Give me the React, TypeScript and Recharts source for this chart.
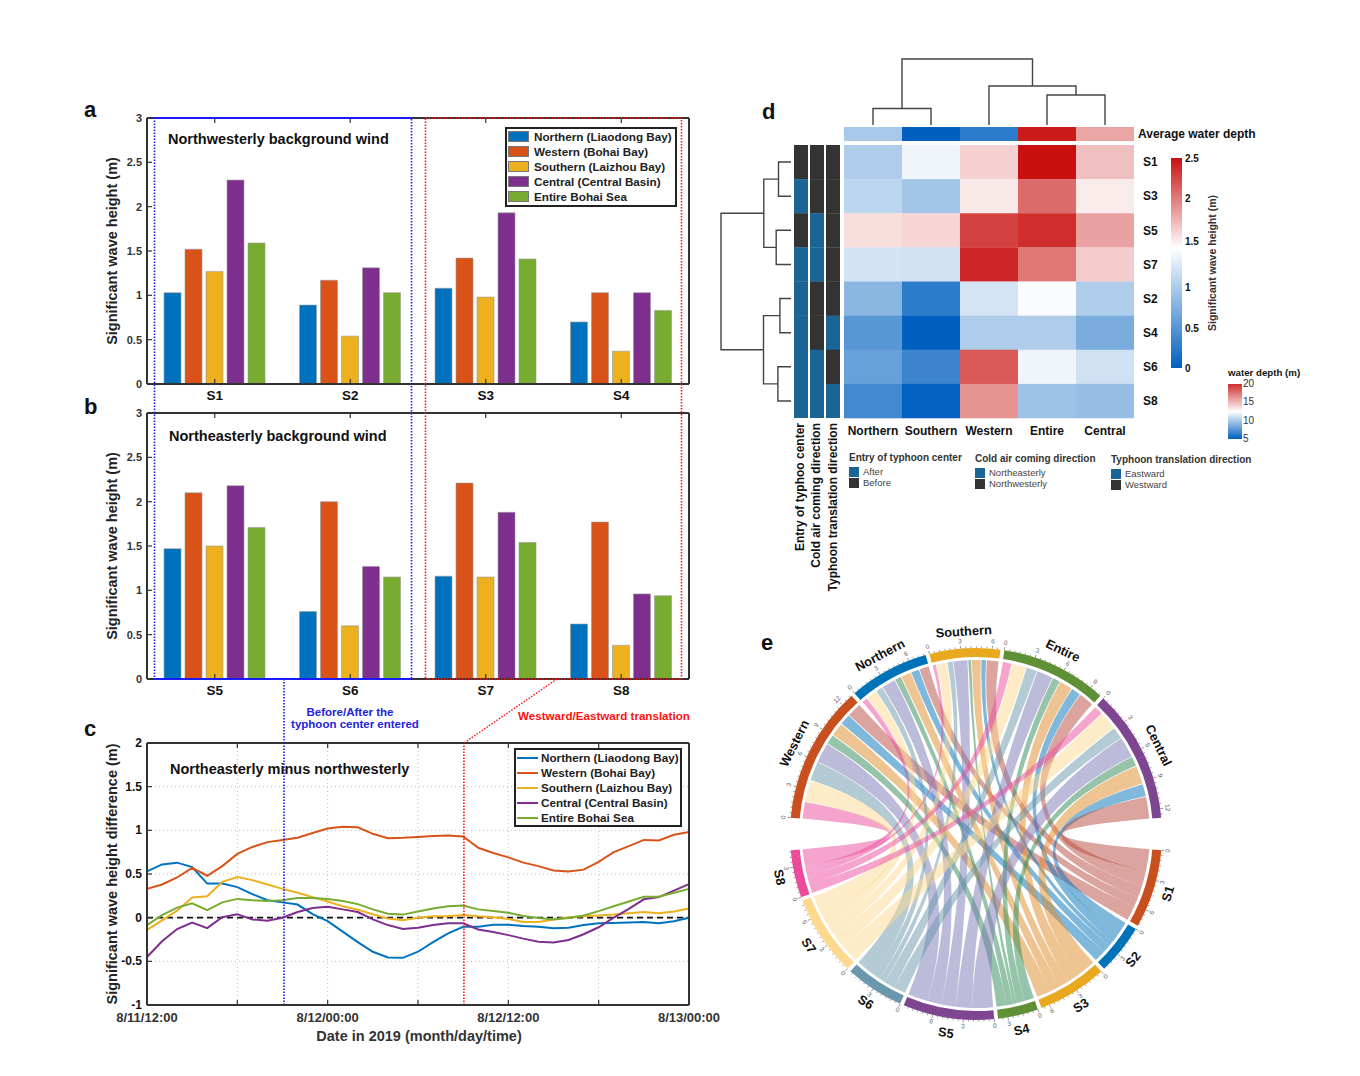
import React from 'react';
import {
  BarChart, Bar, LineChart, Line, ScatterChart, Scatter, PieChart, Pie, Cell,
  XAxis, YAxis, CartesianGrid, Legend, ReferenceLine, Customized,
} from 'recharts';

const FONT = '"Liberation Sans", Arial, sans-serif';
const FRAME = '#333333';

// panels a and b, one value per scenario
const scenariosA = ['S1', 'S2', 'S3', 'S4'];
const northernA = [1.03, 0.89, 1.08, 0.7];
const westernA = [1.52, 1.17, 1.42, 1.03];
const southernA = [1.27, 0.54, 0.98, 0.37];
const centralA = [2.3, 1.31, 1.93, 1.03];
const entireA = [1.59, 1.03, 1.41, 0.83];

const scenariosB = ['S5', 'S6', 'S7', 'S8'];
const northernB = [1.47, 0.76, 1.16, 0.62];
const westernB = [2.1, 2.0, 2.21, 1.77];
const southernB = [1.5, 0.6, 1.15, 0.38];
const centralB = [2.18, 1.27, 1.88, 0.96];
const entireB = [1.71, 1.15, 1.54, 0.94];

const seriesKeys = ['northern', 'western', 'southern', 'central', 'entire'];
const seriesNames = ['Northern (Liaodong Bay)', 'Western (Bohai Bay)', 'Southern (Laizhou Bay)', 'Central (Central Basin)', 'Entire Bohai Sea'];
const seriesColors = ['#0072bd', '#d95319', '#edb120', '#7e2f8e', '#77ac30'];

const waveTicks = [0, 0.5, 1, 1.5, 2, 2.5, 3];

// panel c, hourly from 8/11 12:00
const hours = [0, 1, 2, 3, 4, 5, 6, 7, 8, 9, 10, 11, 12, 13, 14, 15, 16, 17, 18, 19, 20, 21, 22, 23, 24, 25, 26, 27, 28, 29, 30, 31, 32, 33, 34, 35, 36];
const northernDiff = [0.53, 0.61, 0.63, 0.58, 0.39, 0.39, 0.35, 0.27, 0.2, 0.175, 0.15, 0.04, -0.04, -0.16, -0.28, -0.39, -0.455, -0.46, -0.39, -0.28, -0.18, -0.105, -0.105, -0.08, -0.08, -0.095, -0.105, -0.12, -0.115, -0.085, -0.065, -0.06, -0.055, -0.05, -0.065, -0.04, 0];
const westernDiff = [0.33, 0.38, 0.46, 0.57, 0.48, 0.59, 0.73, 0.81, 0.865, 0.89, 0.915, 0.97, 1.02, 1.04, 1.035, 0.96, 0.91, 0.915, 0.925, 0.935, 0.94, 0.93, 0.8, 0.74, 0.69, 0.63, 0.59, 0.54, 0.53, 0.55, 0.64, 0.75, 0.82, 0.89, 0.885, 0.95, 0.98];
const southernDiff = [-0.14, -0.03, 0.08, 0.23, 0.245, 0.41, 0.465, 0.43, 0.38, 0.33, 0.285, 0.235, 0.185, 0.13, 0.09, 0.04, -0.01, -0.03, 0, 0.015, 0.015, 0.03, 0.015, 0.005, -0.015, -0.05, -0.05, -0.02, 0.005, 0.015, 0.025, 0.035, 0.05, 0.065, 0.05, 0.07, 0.105];
const centralDiff = [-0.45, -0.27, -0.13, -0.055, -0.12, 0.005, 0.04, -0.02, -0.035, 0, 0.065, 0.11, 0.125, 0.095, 0.065, -0.02, -0.085, -0.13, -0.115, -0.085, -0.065, -0.065, -0.135, -0.165, -0.2, -0.24, -0.275, -0.285, -0.255, -0.19, -0.11, 0, 0.1, 0.21, 0.235, 0.31, 0.385];
const entireDiff = [-0.085, 0.03, 0.115, 0.165, 0.085, 0.175, 0.215, 0.2, 0.19, 0.2, 0.225, 0.225, 0.215, 0.19, 0.155, 0.095, 0.045, 0.035, 0.07, 0.105, 0.13, 0.14, 0.095, 0.075, 0.055, 0.02, -0.005, -0.02, -0.005, 0.025, 0.075, 0.13, 0.185, 0.24, 0.24, 0.285, 0.33];
const hourTicks = [0, 6, 12, 18, 24, 30, 36];
const hourLabels = ['8/11/12:00', '', '8/12/00:00', '', '8/12/12:00', '', '8/13/00:00'];
const diffTicks = [-1, -0.5, 0, 0.5, 1, 1.5, 2];

// panel d
const heatColumns = ['Northern', 'Southern', 'Western', 'Entire', 'Central'];
const heatRows = ['S1', 'S3', 'S5', 'S7', 'S2', 'S4', 'S6', 'S8'];
const heatS1 = [1.03, 1.27, 1.52, 2.3, 1.59];
const heatS3 = [1.08, 0.98, 1.42, 1.93, 1.41];
const heatS5 = [1.47, 1.5, 2.1, 2.18, 1.71];
const heatS7 = [1.16, 1.15, 2.21, 1.88, 1.54];
const heatS2 = [0.89, 0.54, 1.17, 1.31, 1.03];
const heatS4 = [0.7, 0.37, 1.03, 1.03, 0.83];
const heatS6 = [0.76, 0.6, 2.0, 1.27, 1.15];
const heatS8 = [0.62, 0.38, 1.77, 0.96, 0.94];
const heatValues = [heatS1, heatS3, heatS5, heatS7, heatS2, heatS4, heatS6, heatS8];
const waterDepth = [9.9, 5, 6.3, 19.7, 15.3];
const entryFlags = [0, 1, 0, 1, 1, 1, 1, 1];
const coldAirFlags = [0, 0, 1, 1, 0, 0, 1, 1];
const translationFlags = [0, 0, 0, 0, 0, 1, 0, 1];
const flagColors = ['#333333', '#1a6496'];

// dendrograms: [left leaf/position, right position, left height, right height, merge height]
const topMerges = [
  [0, 1, 0, 0, 0.55],
  [3, 4, 0, 0, 1.0],
  [2, 3.5, 0, 1.0, 1.3],
  [0.5, 2.75, 0.55, 1.3, 2.2],
];
const leftMerges = [
  [0, 1, 0, 0, 12.4],
  [2, 3, 0, 0, 14.7],
  [0.5, 2.5, 12.4, 14.7, 27],
  [4, 5, 0, 0, 11],
  [6, 7, 0, 0, 13],
  [4.5, 6.5, 11, 13, 27.3],
  [1.5, 5.5, 27, 27.3, 69.5],
];

// panel e
const chordRegions = ['Western', 'Northern', 'Southern', 'Entire', 'Central'];
const chordRegionColors = ['#c8501e', '#0072b8', '#e8a91e', '#5f9035', '#7e4690'];
const chordScenarios = ['S1', 'S2', 'S3', 'S4', 'S5', 'S6', 'S7', 'S8'];
const chordScenarioColors = ['#c8501e', '#0072b8', '#e8a91e', '#5f9035', '#7e4690', '#6b97ad', '#fdd88f', '#ec4b9b'];
const ribbonColors = ['#b94a3e', '#0072b8', '#e08a28', '#2c8a55', '#7a78b4', '#6a97ad', '#fcd98f', '#ec4b9b'];
const chordMatrix = [
  [...westernA, ...westernB],
  [...northernA, ...northernB],
  [...southernA, ...southernB],
  [...entireA, ...entireB],
  [...centralA, ...centralB],
];

const barTable = (names: string[], v: number[][]) =>
  names.map((scenario, i) => ({
    scenario, northern: v[0][i], western: v[1][i], southern: v[2][i], central: v[3][i], entire: v[4][i],
  }));
const dataA = barTable(scenariosA, [northernA, westernA, southernA, centralA, entireA]);
const dataB = barTable(scenariosB, [northernB, westernB, southernB, centralB, entireB]);
const diffData = hours.map((hour, i) => ({
  hour, northern: northernDiff[i], western: westernDiff[i], southern: southernDiff[i], central: centralDiff[i], entire: entireDiff[i],
}));

const mix = (a: number[], b: number[], t: number) =>
  `rgb(${a.map((c, i) => Math.round(c + (b[i] - c) * t)).join(',')})`;
const BLUE = [0, 96, 192];
const WHITE = [255, 255, 255];
const RED = [200, 16, 15];
const diverging = (v: number, lo: number, mid: number, hi: number) =>
  v < mid ? mix(BLUE, WHITE, Math.max(0, (v - lo) / (mid - lo))) : mix(WHITE, RED, Math.min(1, (v - mid) / (hi - mid)));

const boldText = { fontFamily: FONT, fontWeight: 700 };

const LeftTick = ({ x, y, payload, size = 11, color = '#333' }: any) => (
  <g>
    <line x1={x} x2={x + 5} y1={y} y2={y} stroke={FRAME} strokeWidth={1.2} />
    <text x={x - 5} y={y + 4} textAnchor="end" fontSize={size} fill={color} style={boldText}>{payload.value}</text>
  </g>
);
const RightTick = ({ x, y }: any) => <line x1={x} x2={x - 5} y1={y} y2={y} stroke={FRAME} strokeWidth={1.2} />;
const TopTick = ({ x, y }: any) => <line x1={x} x2={x} y1={y} y2={y + 5} stroke={FRAME} strokeWidth={1.2} />;
const ScenarioTick = ({ x, y, payload }: any) => (
  <g>
    <line x1={x} x2={x} y1={y} y2={y - 5} stroke={FRAME} strokeWidth={1.2} />
    <text x={x} y={y + 16} textAnchor="middle" fontSize={13.5} fill="#111" style={boldText}>{payload.value}</text>
  </g>
);
const HourTick = ({ x, y, payload }: any) => (
  <g>
    <line x1={x} x2={x} y1={y} y2={y - 5} stroke={FRAME} strokeWidth={1.2} />
    <text x={x} y={y + 17} textAnchor="middle" fontSize={13} fill="#333" style={boldText}>
      {hourLabels[hourTicks.indexOf(payload.value)]}
    </text>
  </g>
);

const frameLine = { stroke: FRAME, strokeWidth: 2 };

const LegendBox = ({ payload, swatch }: any) => (
  <div style={{ boxSizing: 'border-box', border: '2px solid #222', background: '#fff', height: '100%', padding: '0 0 0 1px', fontFamily: FONT, fontWeight: 700, fontSize: 11.7, color: '#222' }}>
    {payload.map((item: any) => (
      <div key={item.value} style={{ display: 'flex', alignItems: 'center', height: 15, whiteSpace: 'nowrap' }}>
        {swatch === 'bar'
          ? <span style={{ width: 21, height: 11, background: item.color, border: '1px solid #777', boxSizing: 'border-box', marginRight: 5 }} />
          : <span style={{ width: 21, height: 2, background: item.color, marginRight: 3 }} />}
        {item.value}
      </div>
    ))}
  </div>
);

function WavePanel({ data, left, top, legend }: any) {
  return (
    <div style={{ position: 'absolute', left, top }}>
      <BarChart width={622} height={306} data={data} margin={{ top: 0, right: 0, bottom: 0, left: 0 }} barSize={17} barGap={4}>
        <XAxis xAxisId="top" orientation="top" dataKey="scenario" height={10} axisLine={frameLine} tickLine={false} tickSize={0} tickMargin={0} tick={<TopTick />} interval={0} />
        <XAxis dataKey="scenario" height={30} axisLine={frameLine} tickLine={false} tickSize={0} tickMargin={0} tick={<ScenarioTick />} interval={0} />
        <YAxis
          domain={[0, 3]} ticks={waveTicks} width={60} axisLine={frameLine} tickLine={false} tickSize={0} tickMargin={0} tick={<LeftTick />} interval={0}
          label={{ value: 'Significant wave height  (m)', angle: -90, position: 'insideLeft', offset: 25, style: { textAnchor: 'middle', fontFamily: FONT, fontWeight: 700, fontSize: 14.5, fill: '#222' } }}
        />
        <YAxis yAxisId="right" orientation="right" domain={[0, 3]} ticks={waveTicks} width={20} axisLine={frameLine} tickLine={false} tickSize={0} tickMargin={0} tick={<RightTick />} interval={0} />
        {seriesKeys.map((key, i) => (
          <Bar key={key} dataKey={key} name={seriesNames[i]} fill={seriesColors[i]} stroke="#999" strokeWidth={0.6} isAnimationActive={false} />
        ))}
        {legend && (
          <Legend itemSorter={null} layout="vertical" align="center" verticalAlign="middle" wrapperStyle={{ left: 418, top: 19, width: 172, height: 80 }} content={(p: any) => <LegendBox payload={p.payload} swatch="bar" />} />
        )}
      </BarChart>
    </div>
  );
}

function DifferencePanel() {
  return (
    <div style={{ position: 'absolute', left: 87, top: 733 }}>
      <LineChart width={642} height={302} data={diffData} margin={{ top: 0, right: 0, bottom: 0, left: 0 }}>
        <CartesianGrid stroke="#bcbcbc" strokeWidth={1} strokeDasharray="1 3" />
        <XAxis xAxisId="top" orientation="top" type="number" dataKey="hour" domain={[0, 36]} ticks={hourTicks} height={10} axisLine={frameLine} tickLine={false} tickSize={0} tickMargin={0} tick={<TopTick />} interval={0} />
        <XAxis type="number" dataKey="hour" domain={[0, 36]} ticks={hourTicks} height={30} axisLine={frameLine} tickLine={false} tickSize={0} tickMargin={0} tick={<HourTick />} interval={0} />
        <YAxis
          domain={[-1, 2]} ticks={diffTicks} width={60} axisLine={frameLine} tickLine={false} tickSize={0} tickMargin={0} tick={<LeftTick size={12} color="#111" />} interval={0}
          label={{ value: 'Significant wave height difference (m)', angle: -90, position: 'insideLeft', offset: 25, style: { textAnchor: 'middle', fontFamily: FONT, fontWeight: 700, fontSize: 14.5, fill: '#222' } }}
        />
        <YAxis yAxisId="right" orientation="right" domain={[-1, 2]} ticks={diffTicks} width={40} axisLine={frameLine} tickLine={false} tickSize={0} tickMargin={0} tick={<RightTick />} interval={0} />
        <ReferenceLine y={0} stroke="#111" strokeWidth={1.6} strokeDasharray="6 4" />
        {seriesKeys.map((key, i) => (
          <Line key={key} dataKey={key} name={seriesNames[i]} stroke={seriesColors[i]} strokeWidth={2} dot={false} isAnimationActive={false} />
        ))}
        <ReferenceLine x={9.1} stroke="#1a1aff" strokeWidth={1.6} strokeDasharray="1.5 1.5" />
        <ReferenceLine x={21.05} stroke="#ff1010" strokeWidth={1.6} strokeDasharray="1.5 1.5" />
        <Legend itemSorter={null} layout="vertical" align="center" verticalAlign="middle" wrapperStyle={{ left: 427, top: 15, width: 168, height: 79 }} content={(p: any) => <LegendBox payload={p.payload} swatch="line" />} />
      </LineChart>
    </div>
  );
}

// one ScatterChart of square tiles, used for the heat map and its annotation strips
function Tiles({ left, top, width, height, cols, rows, tileW, tileH, data, colLabels, rowLabels }: any) {
  const xAxis = colLabels
    ? <XAxis type="number" dataKey="col" domain={[-0.5, cols - 0.5]} ticks={colLabels.map((_: string, i: number) => i)} tickFormatter={(i: number) => colLabels[i]} height={26} axisLine={false} tickLine={false} interval={0} tick={{ fontFamily: FONT, fontWeight: 700, fontSize: 12, fill: '#111' }} />
    : <XAxis hide type="number" dataKey="col" domain={[-0.5, cols - 0.5]} />;
  const yAxis = rowLabels
    ? <YAxis orientation="right" type="number" dataKey="row" reversed domain={[-0.5, rows - 0.5]} ticks={rowLabels.map((_: string, i: number) => i)} tickFormatter={(i: number) => rowLabels[i]} width={36} axisLine={false} tickLine={false} interval={0} tickMargin={3} tick={{ fontFamily: FONT, fontWeight: 700, fontSize: 12, fill: '#111' }} />
    : <YAxis hide type="number" dataKey="row" reversed domain={[-0.5, rows - 0.5]} />;
  return (
    <div style={{ position: 'absolute', left, top }}>
      <ScatterChart width={width} height={height} margin={{ top: 0, right: 0, bottom: 0, left: 0 }}>
        {xAxis}
        {yAxis}
        <Scatter
          data={data}
          isAnimationActive={false}
          shape={(p: any) => <rect x={p.cx - tileW / 2} y={p.cy - tileH / 2} width={tileW} height={tileH + 0.3} fill={p.payload.fill} />}
        />
      </ScatterChart>
    </div>
  );
}

const heatTiles = heatValues.flatMap((rowValues, row) =>
  rowValues.map((v, col) => ({ col, row, fill: diverging(v, 0.37, 1.33, 2.3) })));
const depthTiles = waterDepth.map((v, col) => ({ col, row: 0, fill: diverging(v, 5, 12.5, 20) }));
const flagTiles = [entryFlags, coldAirFlags, translationFlags].flatMap((flags, col) =>
  flags.map((f, row) => ({ col, row, fill: flagColors[f] })));

function Dendrogram({ left, top, width, height, margin, xDomain, yDomain, segments, reversedY, reversedX }: any) {
  return (
    <div style={{ position: 'absolute', left, top }}>
      <ScatterChart width={width} height={height} margin={margin}>
        <XAxis hide type="number" dataKey="x" domain={xDomain} reversed={reversedX} />
        <YAxis hide type="number" dataKey="y" domain={yDomain} reversed={reversedY} />
        {segments.map((pts: any, i: number) => (
          <Scatter key={i} data={pts} line={{ stroke: '#444', strokeWidth: 1.4 }} shape={() => <g />} isAnimationActive={false} />
        ))}
      </ScatterChart>
    </div>
  );
}

const topSegments = topMerges.map(([a, b, ha, hb, h]) => [
  { x: a, y: ha }, { x: a, y: h }, { x: b, y: h }, { x: b, y: hb },
]);
const leftSegments = leftMerges.map(([a, b, ha, hb, h]) => [
  { x: ha, y: a }, { x: h, y: a }, { x: h, y: b }, { x: hb, y: b },
]);

// chord geometry, same angles as the two Pie rings
const CX = 230;
const CY = 230;
const PAD = 1.2;
const RIBBON_R = 174;
const RING_OUT = 186;
const RING_IN = 177;
const regionTotals = chordMatrix.map((r) => r.reduce((a, b) => a + b, 0));
const scenarioTotals = chordScenarios.map((_, s) => chordMatrix.reduce((a, r) => a + r[s], 0));

const layoutSectors = (totals: number[], start: number, end: number) => {
  const sum = totals.reduce((a, b) => a + b, 0);
  const unit = (start - end - PAD * (totals.length - 1)) / sum;
  let cursor = start;
  return totals.map((t) => {
    const s = { start: cursor, end: cursor - t * unit, unit };
    cursor = s.end - PAD;
    return s;
  });
};
const regionSectors = layoutSectors(regionTotals, 175, 5);
const scenarioSectors = layoutSectors(scenarioTotals, -5, -175);

const polar = (r: number, a: number) => {
  const t = (a * Math.PI) / 180;
  return [CX + r * Math.cos(t), CY - r * Math.sin(t)];
};

const ribbonPaths = () => {
  const regionCursor = regionSectors.map((s) => s.start);
  const scenarioCursor = scenarioSectors.map((s) => s.start);
  const arcs: Record<string, number[]> = {};
  chordRegions.forEach((_, r) => {
    for (let s = chordScenarios.length - 1; s >= 0; s--) {
      const a0 = regionCursor[r];
      const a1 = a0 - chordMatrix[r][s] * regionSectors[r].unit;
      regionCursor[r] = a1;
      arcs[`${r}-${s}`] = [a0 - 0.12, a1 + 0.12];
    }
  });
  chordScenarios.forEach((_, s) => {
    for (let r = chordRegions.length - 1; r >= 0; r--) {
      const b0 = scenarioCursor[s];
      const b1 = b0 - chordMatrix[r][s] * scenarioSectors[s].unit;
      scenarioCursor[s] = b1;
      arcs[`${r}-${s}`].push(b0, b1);
    }
  });
  return Object.entries(arcs).map(([key, [a0, a1, b0, b1]]) => {
    const p = (a: number) => polar(RIBBON_R, a).map((v) => v.toFixed(2)).join(' ');
    const R = `A ${RIBBON_R} ${RIBBON_R} 0 0 1`;
    const d = `M ${p(a0)} ${R} ${p(a1)} Q ${CX} ${CY} ${p(b0)} ${R} ${p(b1)} Q ${CX} ${CY} ${p(a0)} Z`;
    return { key, d, scenario: Number(key.split('-')[1]) };
  });
};

const Ribbons = () => (
  <g>
    {ribbonPaths().map((rb) => (
      <path key={rb.key} d={rb.d} fill={ribbonColors[rb.scenario]} fillOpacity={0.5} />
    ))}
  </g>
);

const SectorAxis = ({ sector, total, name, upper }: any) => {
  const marks = [];
  for (let v = 0; v <= total; v += 0.5) marks.push(v);
  const mid = (sector.start + sector.end) / 2;
  const turn = (a: number) => (upper ? 90 - a : -(90 + a));
  const [lx, ly] = polar(202, mid);
  return (
    <g>
      {marks.map((v) => {
        const a = sector.start - v * sector.unit;
        const major = v % 3 === 0;
        const [x1, y1] = polar(RING_OUT, a);
        const [x2, y2] = polar(RING_OUT + (major ? 3 : 1.6), a);
        const [tx, ty] = polar(RING_OUT + 7, a);
        return (
          <g key={v}>
            <line x1={x1} y1={y1} x2={x2} y2={y2} stroke="#333" strokeWidth={0.5} />
            {major && (
              <text x={tx} y={ty} transform={`rotate(${turn(a)} ${tx} ${ty})`} textAnchor="middle" dominantBaseline="middle" fontSize={6.5} fill="#666" fontFamily={FONT}>{v}</text>
            )}
          </g>
        );
      })}
      <text x={lx} y={ly} transform={`rotate(${turn(mid)} ${lx} ${ly})`} textAnchor="middle" dominantBaseline="middle" fontSize={12.8} fill="#111" style={boldText}>{name}</text>
    </g>
  );
};

const ChordAxes = () => (
  <g>
    {chordRegions.map((name, i) => <SectorAxis key={name} name={name} sector={regionSectors[i]} total={regionTotals[i]} upper />)}
    {chordScenarios.map((name, i) => <SectorAxis key={name} name={name} sector={scenarioSectors[i]} total={scenarioTotals[i]} />)}
  </g>
);

const regionSlices = chordRegions.map((name, i) => ({ name, value: regionTotals[i] }));
const scenarioSlices = chordScenarios.map((name, i) => ({ name, value: scenarioTotals[i] }));

function ChordPanel() {
  return (
    <div style={{ position: 'absolute', left: 746, top: 604 }}>
      <PieChart width={460} height={460} margin={{ top: 0, right: 0, bottom: 0, left: 0 }}>
        <Customized component={Ribbons} />
        <Pie data={regionSlices} dataKey="value" cx={CX} cy={CY} innerRadius={RING_IN} outerRadius={RING_OUT} startAngle={175} endAngle={5} paddingAngle={PAD} stroke="none" isAnimationActive={false}>
          {chordRegionColors.map((c) => <Cell key={c} fill={c} />)}
        </Pie>
        <Pie data={scenarioSlices} dataKey="value" cx={CX} cy={CY} innerRadius={RING_IN} outerRadius={RING_OUT} startAngle={-5} endAngle={-175} paddingAngle={PAD} stroke="none" isAnimationActive={false}>
          {chordScenarioColors.map((c) => <Cell key={c} fill={c} />)}
        </Pie>
        <Customized component={ChordAxes} />
      </PieChart>
    </div>
  );
}

const T = ({ x, y, size = 12, weight = 700, color = '#111', anchor = 'start', rotate, children }: any) => (
  <text
    x={x} y={y} fontSize={size} fontWeight={weight} fill={color} textAnchor={anchor} fontFamily={FONT}
    transform={rotate !== undefined ? `rotate(${rotate} ${x} ${y})` : undefined}
  >{children}</text>
);

const annotationLegends = [
  { x: 849, y: 461, title: 'Entry of typhoon center', items: ['After', 'Before'] },
  { x: 975, y: 462, title: 'Cold air coming direction', items: ['Northeasterly', 'Northwesterly'] },
  { x: 1111, y: 463, title: 'Typhoon translation direction', items: ['Eastward', 'Westward'] },
];
const heatBarTicks = [[2.5, 158], [2, 198], [1.5, 241], [1, 287], [0.5, 328], [0, 368]];
const depthBarTicks = [[20, 384], [15, 402], [10, 421], [5, 439]];

function Overlay() {
  return (
    <svg width={1360} height={1076} style={{ position: 'absolute', left: 0, top: 0, pointerEvents: 'none' }}>
      <defs>
        <linearGradient id="heatBar" x1="0" y1="0" x2="0" y2="1">
          <stop offset="0" stopColor="#c8100f" />
          <stop offset="0.43" stopColor="#ffffff" />
          <stop offset="1" stopColor="#0060c0" />
        </linearGradient>
        <linearGradient id="depthBar" x1="0" y1="0" x2="0" y2="1">
          <stop offset="0" stopColor="#cf2d2d" />
          <stop offset="0.5" stopColor="#ffffff" />
          <stop offset="1" stopColor="#0060c0" />
        </linearGradient>
      </defs>

      <T x={84} y={117} size={22}>a</T>
      <T x={84} y={414} size={22}>b</T>
      <T x={84} y={736} size={22}>c</T>
      <T x={762} y={119} size={22}>d</T>
      <T x={761} y={650} size={22}>e</T>

      <T x={168} y={144} size={14.5}>Northwesterly background wind</T>
      <T x={169} y={441} size={14.5}>Northeasterly background wind</T>
      <T x={170} y={774} size={14.5}>Northeasterly minus northwesterly</T>
      <T x={419} y={1041} size={14.5} anchor="middle" color="#333">Date in 2019 (month/day/time)</T>

      <rect x={154.5} y={118} width={257} height={561} fill="none" stroke="#1a1aff" strokeWidth={1.6} strokeDasharray="1.5 1.5" />
      <rect x={425.5} y={118} width={256} height={561} fill="none" stroke="#ff1010" strokeWidth={1.6} strokeDasharray="1.5 1.5" />
      <line x1={154.5} x2={411.5} y1={118} y2={118} stroke="#1a1aff" strokeWidth={2} />
      <line x1={154.5} x2={411.5} y1={679} y2={679} stroke="#1a1aff" strokeWidth={2} />
      <line x1={284} x2={284} y1={679} y2={743} stroke="#1a1aff" strokeWidth={1.6} strokeDasharray="1.5 1.5" />
      <line x1={557} x2={464} y1={679} y2={743} stroke="#ff1010" strokeWidth={1.4} strokeDasharray="1.5 1.5" />
      <T x={350} y={716} size={11.5} color="#2222e0" anchor="middle">Before/After the</T>
      <T x={355} y={728} size={11.5} color="#2222e0" anchor="middle">typhoon center entered</T>
      <T x={518} y={720} size={11.6} color="#ff1010">Westward/Eastward translation</T>

      <T x={1138} y={138} size={12}>Average water depth</T>
      <T x={804} y={423} size={12} anchor="end" rotate={-90}>Entry of typhoo center</T>
      <T x={820} y={423} size={12} anchor="end" rotate={-90}>Cold air coming direction</T>
      <T x={837} y={423} size={12} anchor="end" rotate={-90}>Typhoon translation direction</T>

      {annotationLegends.map((lg) => (
        <g key={lg.title}>
          <T x={lg.x} y={lg.y} size={10} color="#333">{lg.title}</T>
          {lg.items.map((item, i) => (
            <g key={item}>
              <rect x={lg.x} y={lg.y + 6 + i * 11} width={10} height={10} fill={flagColors[1 - i]} />
              <T x={lg.x + 14} y={lg.y + 14 + i * 11} size={9.5} weight={400} color="#444">{item}</T>
            </g>
          ))}
        </g>
      ))}

      <rect x={1171} y={158} width={11} height={210} fill="url(#heatBar)" />
      {heatBarTicks.map(([v, y]) => <T key={v} x={1185} y={y + 4} size={10}>{v}</T>)}
      <T x={1216} y={263} size={10.5} anchor="middle" rotate={-90} color="#333">Significant wave height (m)</T>

      <T x={1228} y={376} size={9.7}>water depth (m)</T>
      <rect x={1228} y={384} width={14} height={55} fill="url(#depthBar)" />
      {depthBarTicks.map(([v, y]) => <T key={v} x={1243} y={y + 3} size={10} weight={400} color="#333">{v}</T>)}
    </svg>
  );
}

export default function App() {
  return (
    <div style={{ position: 'absolute', left: 0, top: 0, width: 1360, height: 1076, background: '#fff', overflow: 'hidden' }}>
      <WavePanel data={dataA} left={87} top={108} legend />
      <WavePanel data={dataB} left={87} top={403} />
      <DifferencePanel />

      <Dendrogram left={842} top={57} width={294} height={70} margin={{ top: 2, right: 2, bottom: 2, left: 2 }} xDomain={[-0.5, 4.5]} yDomain={[0, 2.2]} segments={topSegments} />
      <Dendrogram left={719} top={145} width={74} height={273} margin={{ top: 0, right: 2, bottom: 0, left: 2 }} xDomain={[0, 69.5]} yDomain={[-0.5, 7.5]} segments={leftSegments} reversedY reversedX />
      <Tiles left={844} top={127} width={290} height={14} cols={5} rows={1} tileW={58} tileH={14} data={depthTiles} />
      <Tiles left={793} top={145} width={48} height={273} cols={3} rows={8} tileW={14} tileH={34.1} data={flagTiles} />
      <Tiles left={844} top={145} width={326} height={299} cols={5} rows={8} tileW={58} tileH={34.1} data={heatTiles} colLabels={heatColumns} rowLabels={heatRows} />

      <ChordPanel />
      <Overlay />
    </div>
  );
}
